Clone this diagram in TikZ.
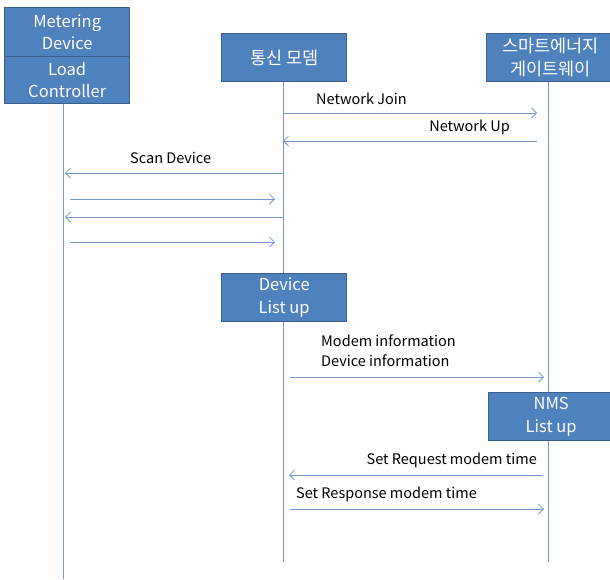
\documentclass[tikz,border=0pt]{standalone}
\usepackage{fontspec}
\setmainfont{Noto Sans CJK KR}
\usetikzlibrary{arrows.meta}
\definecolor{boxfill}{HTML}{4F81BD}
\definecolor{boxline}{HTML}{3A5F8E}
\definecolor{msgline}{HTML}{7399CE}
\begin{document}
\begin{tikzpicture}[x=1pt,y=-1pt,
  actor/.style={draw=boxline,line width=1.4pt,fill=boxfill,text=white,font=\fontsize{16.5}{22.5}\selectfont,align=center,inner sep=0pt},
  kr/.style={font=\fontsize{17.5}{23}\selectfont},
  life/.style={draw=msgline,line width=0.8pt},
  msg/.style={draw=msgline,line width=0.8pt,-{Straight Barb[length=5pt,width=10pt]}},
  lbl/.style={font=\fontsize{14.5}{20}\selectfont,text=black,inner sep=0pt}]
\useasboundingbox (0,0) rectangle (610,579);
% actors
\node[actor,minimum width=125pt,minimum height=49pt,anchor=north west] (md) at (4,7) {Metering\\Device};
\node[actor,minimum width=125pt,minimum height=47pt,anchor=north west] (lc) at (4,56) {Load\\Controller};
\node[actor,kr,minimum width=125pt,minimum height=48pt,anchor=north west] (modem) at (221,33) {통신 모뎀};
\node[actor,kr,minimum width=128pt,minimum height=48pt,anchor=north west] (gw) at (486,33) {스마트에너지\\게이트웨이};
% lifeline ends
\coordinate (lcend) at (63,579);
\coordinate (modemend) at (283,562);
\coordinate (gwend) at (548,562);
\draw[life] (lc.south -| lcend) -- (lcend);
\draw[life] (modem.south -| modemend) -- (modemend);
\draw[life] (gw.south -| gwend) -- (gwend);
% activity boxes
\node[actor,minimum width=125pt,minimum height=48pt,anchor=north west] (dlu) at (221,273) {Device\\List up};
\node[actor,minimum width=125pt,minimum height=48pt,anchor=north west] (nms) at (488,392) {NMS\\List up};
% message endpoints
\coordinate (a1s) at (283,113); \coordinate (a1e) at (537,113);
\coordinate (a2s) at (537,141); \coordinate (a2e) at (283,141);
\coordinate (a3s) at (283,173); \coordinate (a3e) at (65,173);
\coordinate (a4s) at (70,199); \coordinate (a4e) at (275,199);
\coordinate (a5s) at (283,217); \coordinate (a5e) at (65,217);
\coordinate (a6s) at (70,242); \coordinate (a6e) at (275,242);
\coordinate (a7s) at (290,377); \coordinate (a7e) at (544,377);
\coordinate (a8s) at (543,475); \coordinate (a8e) at (289,475);
\coordinate (a9s) at (290,509); \coordinate (a9e) at (544,509);
\draw[msg] (a1s) -- (a1e);
\draw[msg] (a2s) -- (a2e);
\draw[msg] (a3s) -- (a3e);
\draw[msg] (a4s) -- (a4e);
\draw[msg] (a5s) -- (a5e);
\draw[msg] (a6s) -- (a6e);
\draw[msg] (a7s) -- (a7e);
\draw[msg] (a8s) -- (a8e);
\draw[msg] (a9s) -- (a9e);
% labels
\node[lbl,anchor=west] (l1) at (316,99) {Network Join};
\node[lbl,anchor=east] (l2) at (510,127) {Network Up};
\node[lbl,anchor=west] (l3) at (130,158) {Scan Device};
\node[lbl,anchor=west,align=left] (l7) at (321,351) {Modem information\\Device information};
\node[lbl,anchor=east] (l8) at (537,460) {Set Request modem time};
\node[lbl,anchor=west] (l9) at (296,494) {Set Response modem time};
\end{tikzpicture}
\end{document}
